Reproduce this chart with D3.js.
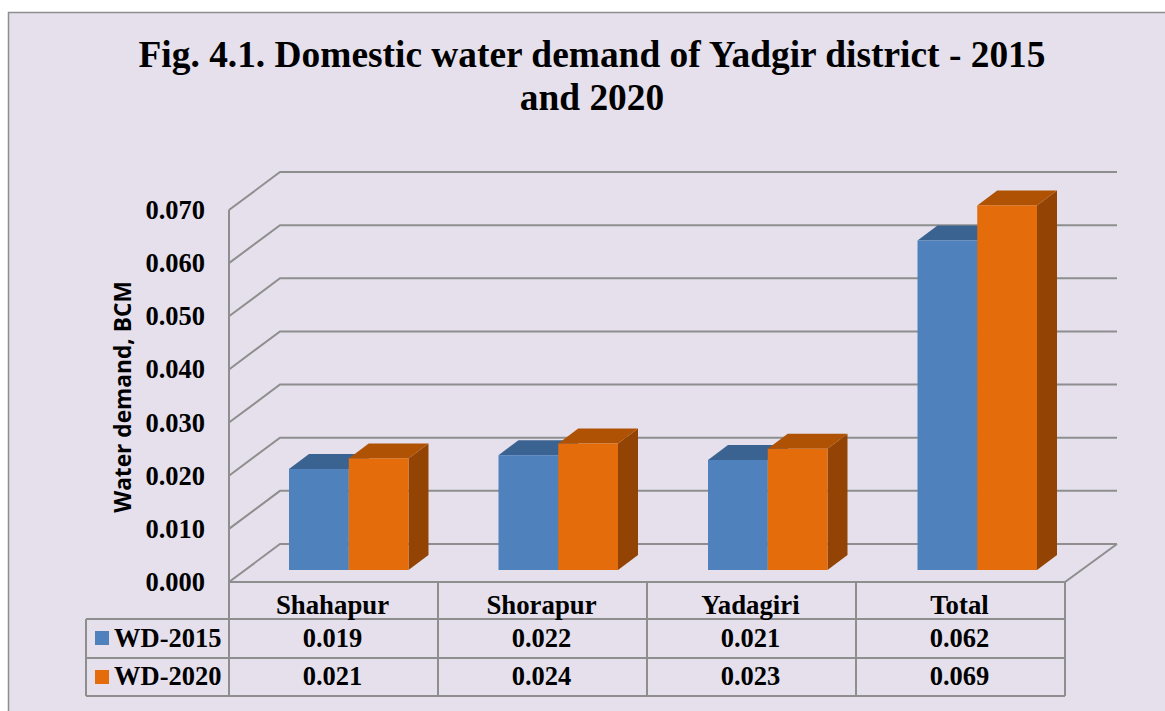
<!DOCTYPE html>
<html>
<head>
<meta charset="utf-8">
<script src="https://cdn.jsdelivr.net/npm/d3@7"></script>
<style>
  html, body { margin: 0; padding: 0; background: #fff; overflow: hidden; }
  text { font-family: "Liberation Serif", serif; font-weight: bold; fill: #000; }
</style>
</head>
<body>
<script>
// bar heights, the table shows them to 3 places
var categories = ['Shahapur', 'Shorapur', 'Yadagiri', 'Total'];
var seriesNames = ['WD-2015', 'WD-2020'];
var wd2015 = [0.0190, 0.0216, 0.0207, 0.0620];
var wd2020 = [0.0210, 0.0238, 0.0228, 0.0686];
var yTicks = [0, 0.01, 0.02, 0.03, 0.04, 0.05, 0.06, 0.07];
var titleLines = ['Fig. 4.1. Domestic water demand of Yadgir district - 2015', 'and 2020'];
var seriesColors = [
  {front: '#4f81bd', top: '#3b6392', side: '#345780'},
  {front: '#e46c0a', top: '#b05203', side: '#934404'}
];

var width = 1165, height = 711;
var plotLeft = 229, plotRight = 1065, plotBottom = 582, plotTop = 210;
var wallDx = 51, wallDy = 38;    // depth of the 3d walls
var barDx = 20, barDy = 15;      // depth of one bar
var barLift = 12;                // bars stand in from the front edge
var gridColor = '#8e8e8e';

var svg = d3.select('body').append('svg')
    .attr('width', width)
    .attr('height', height);

// chart area
svg.append('rect')
    .attr('x', 8.5).attr('y', 12.5)
    .attr('width', 1200).attr('height', 800)
    .attr('fill', '#e5e0ec')
    .attr('stroke', gridColor)
    .attr('stroke-width', 1.5);

svg.append('g').selectAll('text')
    .data(titleLines)
  .enter().append('text')
    .attr('x', 592)
    .attr('y', function (d, i) { return 67 + i * 43; })
    .attr('text-anchor', 'middle')
    .style('font-size', '37.4px')
    .text(function (d) { return d; });

var y = d3.scaleLinear().domain([0, 0.07]).range([plotBottom, plotTop]);
var x = d3.scaleBand().domain(categories).range([plotLeft, plotRight]);
// the bars sit on a slightly wider step than the table columns
var xBars = d3.scaleBand().domain(categories).range([plotLeft, plotRight + 2]);
var xSeries = d3.scaleBand().domain(seriesNames).range([60, 179.5]);

//------------------------------------------------------------
// walls and gridlines

var walls = svg.append('g')
    .attr('fill', 'none')
    .attr('stroke', gridColor)
    .attr('stroke-width', 2);

walls.selectAll('path.grid')
    .data(yTicks)
  .enter().append('path')
    .attr('class', 'grid')
    .attr('d', function (d) {
      return d3.line()([[plotLeft, y(d)], [plotLeft + wallDx, y(d) - wallDy], [1117, y(d) - wallDy]]);
    });

walls.append('path')
    .attr('d', d3.line()([[plotLeft, y(0.07)], [plotLeft, y(0)], [plotRight, y(0)], [1117, y(0) - wallDy]]));

//------------------------------------------------------------
// y axis

var yAxis = svg.append('g')
    .attr('transform', 'translate(' + plotLeft + ',0)')
    .call(d3.axisLeft(y).tickValues(yTicks).tickSize(0).tickPadding(24).tickFormat(d3.format('.3f')));
yAxis.select('.domain').remove();
yAxis.selectAll('text')
    .style('font-family', '"Liberation Serif", serif')
    .style('font-size', '26.5px')
    .style('font-weight', 'bold');

svg.append('text')
    .attr('transform', 'translate(131,397) rotate(-90)')
    .attr('text-anchor', 'middle')
    .style('font-family', '"Open Sans", sans-serif')
    .style('font-size', '22.7px')
    .text('Water demand, BCM');

//------------------------------------------------------------
// 3d bars, drawn left to right so each one covers the last one's side

var barData = [];
categories.forEach(function (c, i) {
  barData.push({cat: c, series: 0, value: wd2015[i]});
  barData.push({cat: c, series: 1, value: wd2020[i]});
});

var bars = svg.append('g').selectAll('g.bar')
    .data(barData)
  .enter().append('g')
    .attr('class', 'bar');

function barX(d) { return xBars(d.cat) + xSeries(seriesNames[d.series]); }
function barTop(d) { return y(d.value) - barLift; }
var bw = xSeries.bandwidth();

bars.append('path')
    .attr('fill', function (d) { return seriesColors[d.series].side; })
    .attr('d', function (d) {
      var x1 = barX(d) + bw, y0 = plotBottom - barLift, y1 = barTop(d);
      return d3.line()([[x1, y0], [x1 + barDx, y0 - barDy], [x1 + barDx, y1 - barDy], [x1, y1]]) + 'Z';
    });

bars.append('path')
    .attr('fill', function (d) { return seriesColors[d.series].top; })
    .attr('d', function (d) {
      var x0 = barX(d), y1 = barTop(d);
      return d3.line()([[x0, y1], [x0 + barDx, y1 - barDy], [x0 + bw + barDx, y1 - barDy], [x0 + bw, y1]]) + 'Z';
    });

bars.append('rect')
    .attr('fill', function (d) { return seriesColors[d.series].front; })
    .attr('x', barX)
    .attr('y', barTop)
    .attr('width', bw)
    .attr('height', function (d) { return plotBottom - barLift - barTop(d); });

//------------------------------------------------------------
// data table

var rowLines = [619, 658, 696];
var tableLeft = 86;
var table = svg.append('g')
    .attr('stroke', gridColor)
    .attr('stroke-width', 2);

table.selectAll('line.row')
    .data(rowLines)
  .enter().append('line')
    .attr('class', 'row')
    .attr('x1', tableLeft).attr('x2', plotRight)
    .attr('y1', function (d) { return d; })
    .attr('y2', function (d) { return d; });

table.selectAll('line.col')
    .data(categories.concat(['end']))
  .enter().append('line')
    .attr('class', 'col')
    .attr('x1', function (d, i) { return plotLeft + i * x.step(); })
    .attr('x2', function (d, i) { return plotLeft + i * x.step(); })
    .attr('y1', plotBottom)
    .attr('y2', rowLines[2]);

table.append('line')
    .attr('x1', tableLeft).attr('x2', tableLeft)
    .attr('y1', rowLines[0]).attr('y2', rowLines[2]);

var cellSize = '26.5px';

svg.append('g').selectAll('text')
    .data(categories)
  .enter().append('text')
    .attr('x', function (d) { return x(d) + x.bandwidth() / 2 - 1; })
    .attr('y', 614)
    .attr('text-anchor', 'middle')
    .style('font-size', '26.8px')
    .text(function (d) { return d; });

[wd2015, wd2020].forEach(function (values, s) {
  var row = svg.append('g');

  row.selectAll('text')
      .data(values)
    .enter().append('text')
      .attr('x', function (d, i) { return x(categories[i]) + x.bandwidth() / 2 - 1; })
      .attr('y', 647 + s * 38)
      .attr('text-anchor', 'middle')
      .style('font-size', cellSize)
      .text(function (d) { return d3.format('.3f')(d); });

  row.append('rect')
      .attr('x', 95)
      .attr('y', 631 + s * 39)
      .attr('width', 14)
      .attr('height', 14)
      .attr('fill', seriesColors[s].front);

  row.append('text')
      .attr('x', 114)
      .attr('y', 647 + s * 38)
      .style('font-size', cellSize)
      .text(seriesNames[s]);
});
</script>
</body>
</html>
